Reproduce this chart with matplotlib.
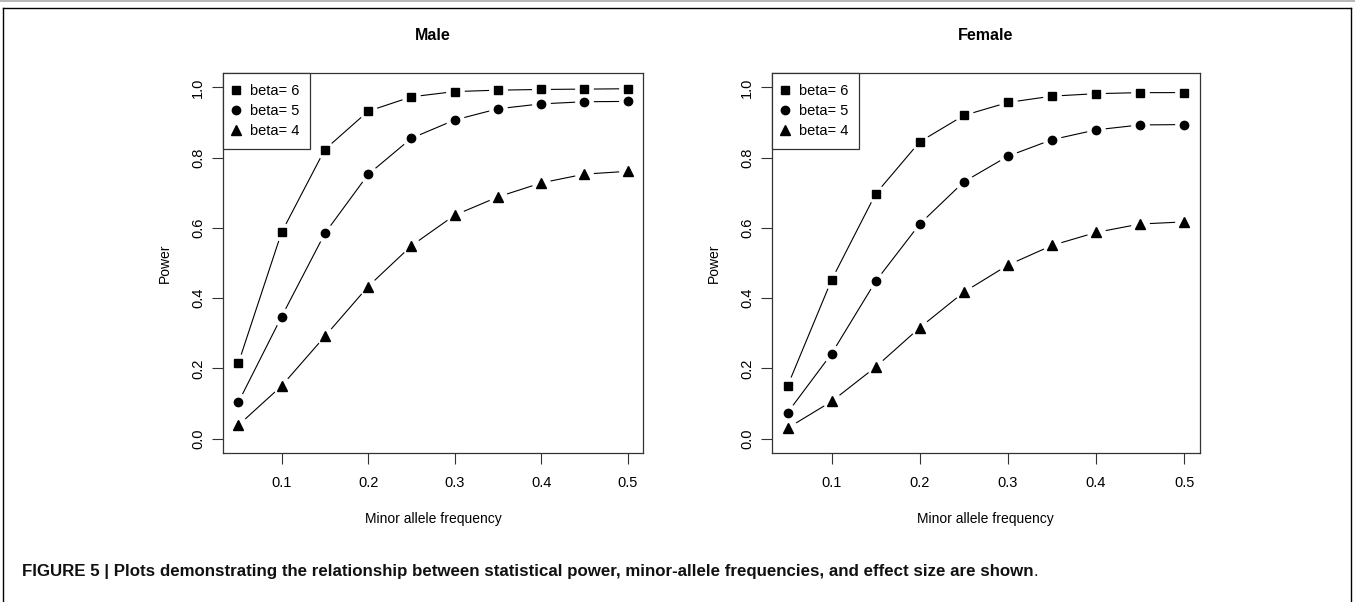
import matplotlib
matplotlib.use("Agg")
import matplotlib.pyplot as plt
from matplotlib.lines import Line2D

plt.rcParams['font.family'] = ['Liberation Sans', 'DejaVu Sans']

maf = [0.05, 0.10, 0.15, 0.20, 0.25, 0.30, 0.35, 0.40, 0.45, 0.50]

male_beta6 = [0.214, 0.587, 0.823, 0.932, 0.973, 0.988, 0.992, 0.994, 0.995, 0.996]
male_beta5 = [0.103, 0.347, 0.584, 0.752, 0.855, 0.907, 0.939, 0.953, 0.959, 0.960]
male_beta4 = [0.038, 0.150, 0.291, 0.433, 0.549, 0.636, 0.688, 0.728, 0.753, 0.761]

female_beta6 = [0.150, 0.452, 0.697, 0.845, 0.920, 0.957, 0.975, 0.982, 0.985, 0.985]
female_beta5 = [0.074, 0.242, 0.448, 0.611, 0.731, 0.804, 0.851, 0.879, 0.893, 0.894]
female_beta4 = [0.030, 0.106, 0.204, 0.316, 0.417, 0.494, 0.550, 0.587, 0.611, 0.617]

legend_labels = ["beta= 6", "beta= 5", "beta= 4"]
markers = ["s", "o", "^"]
marker_sizes = [5.5, 6.0, 6.5]
panel_titles = ["Male", "Female"]
x_ticks = [0.1, 0.2, 0.3, 0.4, 0.5]
y_ticks = [0.0, 0.2, 0.4, 0.6, 0.8, 1.0]

W, H = 1355, 602
fig = plt.figure(figsize=(W / 100, H / 100), dpi=100)

panels = [
    (panel_titles[0], [male_beta6, male_beta5, male_beta4], 222.7, 643.3),
    (panel_titles[1], [female_beta6, female_beta5, female_beta4], 771.7, 1200.0),
]
top_px, bot_px = 73.3, 452.7

for title, series, lpx, rpx in panels:
    ax = fig.add_axes([lpx / W, 1 - bot_px / H, (rpx - lpx) / W, (bot_px - top_px) / H])
    for ys, mk, ms in zip(series, markers, marker_sizes):
        ax.plot(maf, ys, color="black", lw=0.8, zorder=2)
        ax.plot(maf, ys, ls="none", marker="o", ms=12.5, mfc="white", mec="white", zorder=3)
        ax.plot(maf, ys, ls="none", marker=mk, ms=ms, mfc="black", mec="black", zorder=4)
    ax.set_xlim(0.032, 0.518)
    ax.set_ylim(-0.04, 1.04)
    ax.set_xticks(x_ticks)
    ax.set_xticklabels([f"{v:.1f}" for v in x_ticks])
    ax.set_yticks(y_ticks)
    ax.set_yticklabels([f"{v:.1f}" for v in y_ticks], rotation=90, va="center")
    ax.tick_params(axis="both", length=8, width=0.8, labelsize=10.5, color="#333333")
    ax.tick_params(axis="x", pad=9)
    ax.tick_params(axis="y", pad=4.5)
    for sp in ax.spines.values():
        sp.set_linewidth(0.9)
        sp.set_color("#333333")
    ax.set_xlabel("Minor allele frequency", fontsize=10, labelpad=15.5)
    ax.set_ylabel("Power", fontsize=10, labelpad=14)
    ax.set_title(title, fontsize=11.5, fontweight="bold", pad=24)
    handles = [Line2D([], [], ls="none", marker=mk, ms=ms, color="black")
               for mk, ms in zip(markers, marker_sizes)]
    leg = ax.legend(handles, legend_labels, loc="upper left", borderaxespad=0,
                    fancybox=False, framealpha=1, edgecolor="#333333",
                    fontsize=10.5, handlelength=0.35, handletextpad=0.75,
                    labelspacing=0.4, borderpad=0.75)
    leg.get_frame().set_linewidth(0.9)

# outer frame of the figure page
fig.add_artist(Line2D([0, 1], [1 - 0.8 / H, 1 - 0.8 / H], color="#aaaaaa", lw=1.2,
                      transform=fig.transFigure))
fig.add_artist(Line2D([3 / W, 1351 / W], [1 - 8 / H, 1 - 8 / H], color="black", lw=1.0,
                      transform=fig.transFigure))
fig.add_artist(Line2D([3 / W, 3 / W], [0, 1 - 8 / H], color="black", lw=1.0,
                      transform=fig.transFigure))
fig.add_artist(Line2D([1351 / W, 1351 / W], [0, 1 - 8 / H], color="black", lw=1.0,
                      transform=fig.transFigure))

caption_bold = ("FIGURE 5 | Plots demonstrating the relationship between statistical power, "
                "minor-allele frequencies, and effect size are shown")
cap_y = 1 - 576 / H
t = fig.text(22 / W, cap_y, caption_bold, fontsize=12.2, fontweight="bold",
             va="baseline", ha="left", color="#111111")
renderer = fig.canvas.get_renderer()
bb = t.get_window_extent(renderer=renderer)
fig.text(bb.x1 / W, cap_y, ".", fontsize=12.2, va="baseline", ha="left", color="#111111")

fig.savefig("out.png", dpi=100)
